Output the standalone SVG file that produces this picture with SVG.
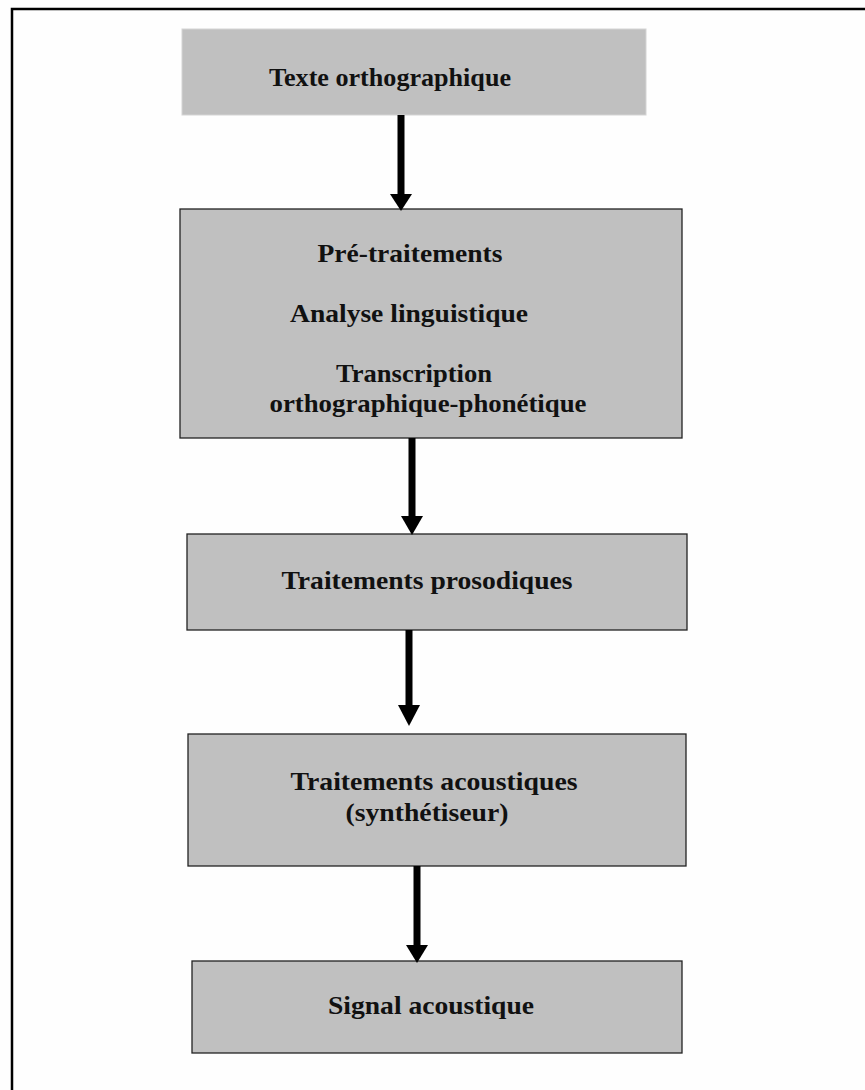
<svg xmlns="http://www.w3.org/2000/svg" width="865" height="1090" viewBox="0 0 865 1090">
<style>
.box{fill:#c0c0c0;stroke:#222;stroke-width:1.3}
.box0{fill:#c0c0c0;stroke:#d4d4d4;stroke-width:1}
.lbl{font-family:"Liberation Serif","Times New Roman",serif;font-weight:bold;font-size:26px;fill:#111;text-anchor:middle}
.shaft{stroke:#000;stroke-width:7;fill:none}
.head{fill:#000}
</style>
<rect x="0" y="0" width="865" height="1090" fill="#fefefe"/>
<path d="M12,1090 V9 H865" fill="none" stroke="#000" stroke-width="2.5"/>
<g id="n1"><rect class="box0" x="182" y="29" width="464" height="86"/><text class="lbl" x="390" y="86" textLength="242" lengthAdjust="spacingAndGlyphs">Texte orthographique</text></g>
<g id="n2"><rect class="box" x="180" y="209" width="502" height="229"/>
<text class="lbl" x="410" y="262" textLength="185" lengthAdjust="spacingAndGlyphs">Pré-traitements</text>
<text class="lbl" x="409" y="322" textLength="238" lengthAdjust="spacingAndGlyphs">Analyse linguistique</text>
<text class="lbl" x="414" y="382" textLength="156" lengthAdjust="spacingAndGlyphs">Transcription</text>
<text class="lbl" x="428" y="412" textLength="317" lengthAdjust="spacingAndGlyphs">orthographique-phonétique</text></g>
<g id="n3"><rect class="box" x="187" y="534" width="500" height="96"/><text class="lbl" x="427" y="589" textLength="291" lengthAdjust="spacingAndGlyphs">Traitements prosodiques</text></g>
<g id="n4"><rect class="box" x="188" y="734" width="498" height="132"/>
<text class="lbl" x="434" y="790" textLength="287" lengthAdjust="spacingAndGlyphs">Traitements acoustiques</text>
<text class="lbl" x="427" y="821" textLength="163" lengthAdjust="spacingAndGlyphs">(synthétiseur)</text></g>
<g id="n5"><rect class="box" x="192" y="961" width="490" height="92"/><text class="lbl" x="431" y="1014" textLength="206" lengthAdjust="spacingAndGlyphs">Signal acoustique</text></g>
<g id="connectors">
<line class="shaft" x1="401" y1="115" x2="401" y2="196"/><path class="head" d="M390,194 H412 L401,211 Z"/>
<line class="shaft" x1="412" y1="438" x2="412" y2="518"/><path class="head" d="M401,516 H423 L412,535 Z"/>
<line class="shaft" x1="409" y1="630" x2="409" y2="707"/><path class="head" d="M398,705 H420 L409,726 Z"/>
<line class="shaft" x1="417" y1="866" x2="417" y2="947"/><path class="head" d="M406,945 H428 L417,963 Z"/>
</g>
</svg>
